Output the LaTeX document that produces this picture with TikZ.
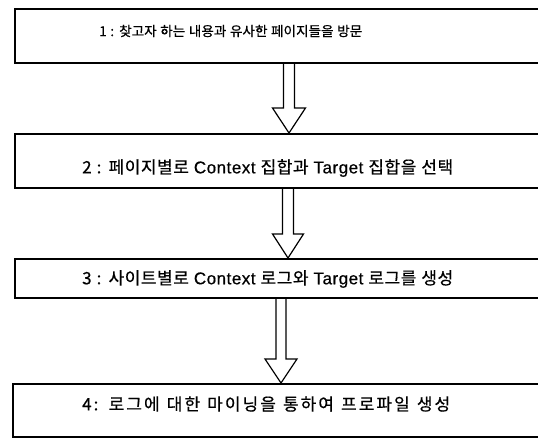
\documentclass[tikz,border=0pt]{standalone}
\usepackage{fontspec}
\newfontfamily\cjk[FakeBold=0.6]{Noto Sans CJK KR}
\newfontfamily\cjkA[FakeBold=0.6,LetterSpace=3]{Noto Sans CJK KR}
\newfontfamily\cjkB[FakeBold=0.6,LetterSpace=12]{Noto Sans CJK KR}
\newfontfamily\lat[FakeBold=0.6,LetterSpace=3]{Liberation Sans}
\usetikzlibrary{calc}
\tikzset{
  stepbox/.style={draw=black, line width=1.5pt, rectangle, inner sep=0pt, anchor=north west},
  steptext/.style={anchor=west, inner sep=0pt, font=\cjkA\fontsize{17pt}{19pt}\selectfont},
  widetext/.style={steptext, font=\cjkB\fontsize{17pt}{19pt}\selectfont},
  smalltext/.style={steptext, font=\cjk\fontsize{13.6pt}{16pt}\selectfont},
  blockarr/.style={draw=black, line width=1.2pt, line join=miter}
}
\begin{document}
\begin{tikzpicture}[x=1pt,y=-1pt]
\useasboundingbox (0,0) rectangle (538,437);
\clip (0,0) rectangle (538,437);
\node[stepbox, minimum width=534pt, minimum height=54pt] (b1) at (14,8) {};
\node[stepbox, minimum width=534pt, minimum height=54pt] (b2) at (14,133) {};
\node[stepbox, minimum width=534pt, minimum height=39pt] (b3) at (14,258) {};
\node[stepbox, minimum width=536pt, minimum height=53pt] (b4) at (12,383) {};
\node[smalltext] (t1) at (99,31) {\makebox[263pt][s]{1 : 찾고자 하는 내용과 유사한 페이지들을 방문}};
\node[steptext] (t2) at (82,168) {\makebox[371pt][s]{2 : 페이지별로 {\lat Context} 집합과 {\lat Target} 집합을 선택}};
\node[steptext] (t3) at (82,279) {\makebox[371pt][s]{3 : 사이트별로 {\lat Context} 로그와 {\lat Target} 로그를 생성}};
\node[widetext] (t4) at (82,404) {\makebox[368pt][s]{4: 로그에 대한 마이닝을 통하여 프로파일 생성}};
% block arrows
\draw[blockarr] let \p1=(b1.south), \p2=(b2.north) in
  ({289pt-5.5pt},{\y1}) -- ({289pt-5.5pt},{\y2+25pt}) -- ({289pt-16.5pt},{\y2+25pt}) -- ({289pt},{\y2}) -- ({289pt+16.5pt},{\y2+25pt}) -- ({289pt+5.5pt},{\y2+25pt}) -- ({289pt+5.5pt},{\y1});
\draw[blockarr] let \p1=(b2.south), \p2=(b3.north) in
  ({288pt-5.5pt},{\y1}) -- ({288pt-5.5pt},{\y2+24pt}) -- ({288pt-15.5pt},{\y2+24pt}) -- ({288pt},{\y2}) -- ({288pt+15.5pt},{\y2+24pt}) -- ({288pt+5.5pt},{\y2+24pt}) -- ({288pt+5.5pt},{\y1});
\draw[blockarr] let \p1=(b3.south), \p2=(b4.north) in
  ({281pt-5pt},{\y1}) -- ({281pt-5pt},{\y2+24pt}) -- ({281pt-16pt},{\y2+24pt}) -- ({281pt},{\y2}) -- ({281pt+16pt},{\y2+24pt}) -- ({281pt+5pt},{\y2+24pt}) -- ({281pt+5pt},{\y1});
\end{tikzpicture}
\end{document}
